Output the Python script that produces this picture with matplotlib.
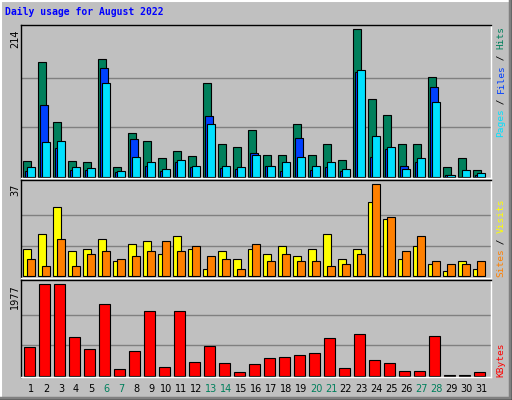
import matplotlib
matplotlib.use("Agg")
import matplotlib.pyplot as plt
from matplotlib.patches import Rectangle
from matplotlib.lines import Line2D

days = list(range(1, 32))
weekends = [6, 7, 13, 14, 20, 21, 27, 28]
hits = [22,166,79,22,21,170,14,64,51,27,37,30,136,48,43,67,32,31,76,32,48,24,214,112,89,48,47,144,14,27,9]
files = [8,104,41,9,9,157,6,54,16,8,21,14,88,12,11,34,15,8,56,9,14,8,152,28,40,16,21,130,3,0,3]
pages = [14,50,51,14,12,136,8,28,21,11,24,16,77,16,14,32,16,21,28,16,21,11,154,59,43,11,27,109,3,9,5]
visits = [11,17,28,10,11,15,6,13,14,9,16,11,3,10,7,11,9,12,8,11,17,7,11,30,23,7,12,5,2,6,3]
sites = [7,4,15,4,9,10,7,8,10,14,10,12,8,7,3,13,6,9,6,6,4,5,9,37,24,10,16,6,5,5,6]
kbytes = [613,1977,1977,830,570,1544,137,527,1393,180,1393,289,635,267,72,245,375,397,440,483,808,159,895,332,267,94,94,851,5,5,72]
max_hits, max_sites, max_kb = 214, 37, 1977

W, H = 512, 400
fig = plt.figure(figsize=(W/100, H/100), dpi=100)
fig.patch.set_facecolor("#C0C0C0")

def rect(x0, y0, x1, y1):
    return [x0/W, 1-y1/H, (x1-x0)/W, (y1-y0)/H]

# 3D frame
fig.add_artist(Line2D([0, 1], [1-1/H, 1-1/H], color="white", lw=1.5, transform=fig.transFigure))
fig.add_artist(Line2D([1/W, 1/W], [0, 1], color="white", lw=1.5, transform=fig.transFigure))
fig.add_artist(Line2D([0, 1], [2/H, 2/H], color="#808080", lw=2.5, transform=fig.transFigure))
fig.add_artist(Line2D([1-2/W, 1-2/W], [0, 1], color="#808080", lw=2.5, transform=fig.transFigure))
fig.add_artist(Line2D([0, 1], [0.5/H, 0.5/H], color="black", lw=1, transform=fig.transFigure))
fig.add_artist(Line2D([1-0.5/W, 1-0.5/W], [0, 1], color="black", lw=1, transform=fig.transFigure))

xl = (1 - 10/15, 31 + 10/15)
step = 1.0

def setup(ax, ylim, vmax):
    ax.set_facecolor("#C0C0C0")
    ax.set_xlim(*xl)
    ax.set_ylim(*ylim)
    ax.set_xticks([]); ax.set_yticks([])
    for k in (1, 2):
        ax.axhline(vmax*k/3, color="#808080", lw=1, zorder=0)
    for s in ax.spines.values():
        s.set_color("black"); s.set_linewidth(1)
    ax.spines["bottom"].set_color("white")
    ax.spines["right"].set_color("white")

ax1 = fig.add_axes(rect(21, 25, 491, 178))
setup(ax1, (-2, 220), max_hits)
w = 0.49
ax1.bar([d-0.27 for d in days], hits, w, color="#00805C", edgecolor="black", lw=0.8)
ax1.bar([d-0.13 for d in days], files, w, color="#0040FF", edgecolor="black", lw=0.8)
ax1.bar(days, pages, w, color="#00E0FF", edgecolor="black", lw=0.8)

ax2 = fig.add_axes(rect(21, 180, 491, 278))
setup(ax2, (-0.7, 38.7), max_sites)
ax2.bar([d-0.27 for d in days], visits, w, color="#FFFF00", edgecolor="black", lw=0.8)
ax2.bar(days, sites, w, color="#FF8000", edgecolor="black", lw=0.8)

ax3 = fig.add_axes(rect(21, 280, 491, 377))
setup(ax3, (-28, 2072), max_kb)
ax3.bar([d-0.1 for d in days], kbytes, 0.67, color="#FF0000", edgecolor="black", lw=0.8)

# title
fig.text(5/W, 1-12/H, "Daily usage for August 2022", family="DejaVu Sans Mono",
         weight="bold", color="#0000FF", fontsize=7, va="center", ha="left")

# left max labels
for txt, ytop in [(str(max_hits), 29), (str(max_sites), 184), (str(max_kb), 284)]:
    fig.text(15/W, 1-ytop/H, txt, rotation=90, family="DejaVu Sans", fontsize=7,
             va="top", ha="center")

# right legends
cw = 5.5
def vlabel(segs, ybottom):
    y = ybottom
    for t, c in segs:
        fig.text(501/W, 1-y/H, t, rotation=90, family="DejaVu Sans Mono", fontsize=6.8,
                 color=c, va="bottom", ha="center")
        y -= cw*len(t)

vlabel([("Pages", "#00E0FF"), (" / ", "black"), ("Files", "#0040FF"), (" / ", "black"), ("Hits", "#00805C")], 137)
vlabel([("Sites", "#FF8000"), (" / ", "black"), ("Visits", "#FFFF00")], 277)
vlabel([("KBytes", "#FF0000")], 377)

# day labels
for d in days:
    xpix = 21 + (d - xl[0]) / (xl[1] - xl[0]) * 470
    fig.text(xpix/W, 1-389/H, str(d), fontsize=7, family="DejaVu Sans",
             color="#00805C" if d in weekends else "black", ha="center", va="center")

fig.savefig("out.png", dpi=100, facecolor=fig.get_facecolor())
